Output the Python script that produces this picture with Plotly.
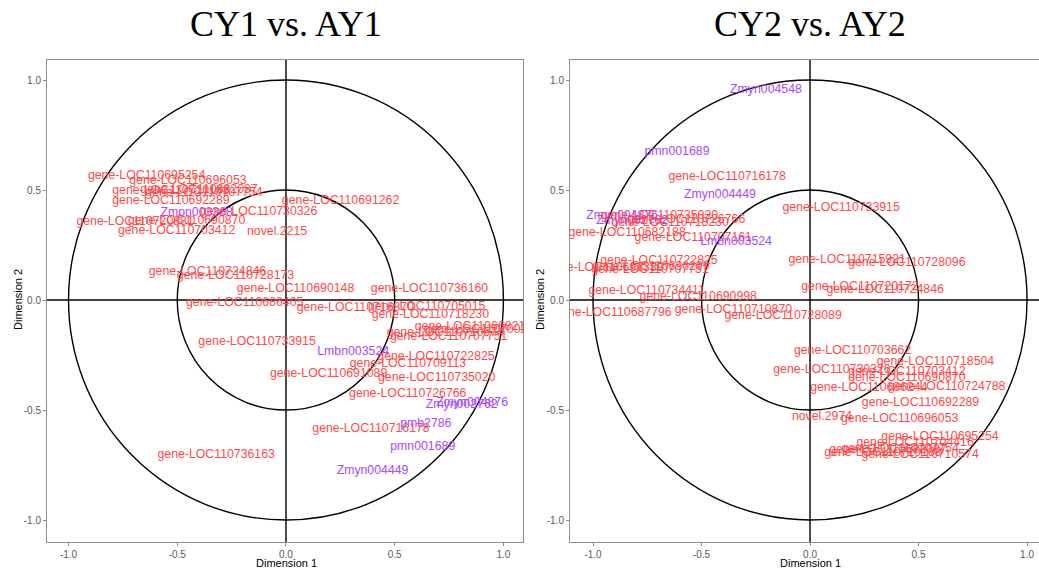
import plotly.graph_objects as go

# ---- CY1 vs. AY1 : variable coordinates on dimensions 1 and 2 ----
cy1_labels = [
    "gene-LOC110695254", "gene-LOC110696053", "gene-LOC110710188", "gene-LOC110682087",
    "gene-LOC110707754", "gene-LOC110692289", "Zmpn003368", "gene-LOC110730326",
    "gene-LOC110720881", "gene-LOC110690870", "gene-LOC110703412", "novel.2215",
    "gene-LOC110691262", "gene-LOC110724846", "gene-LOC110728173", "gene-LOC110690148",
    "gene-LOC110686405", "gene-LOC110736160", "gene-LOC110716870", "gene-LOC110705015",
    "gene-LOC110718230", "gene-LOC110668217", "gene-LOC110700211", "gene-LOC110710574",
    "gene-LOC110707751", "gene-LOC110733915", "Lmbn003524", "gene-LOC110722825",
    "gene-LOC110709113", "gene-LOC110691089", "gene-LOC110735020", "gene-LOC110726766",
    "Zmyn004876", "Zmyn002762", "pmb2786", "gene-LOC110716178",
    "pmn001689", "gene-LOC110736163", "Zmyn004449",
]
cy1_dim1 = [
    -0.641, -0.451, -0.529, -0.400, -0.377, -0.529, -0.411, -0.126,
    -0.694, -0.457, -0.503, -0.041, 0.251, -0.361, -0.232, 0.044,
    -0.190, 0.660, 0.319, 0.647, 0.664, 0.862, 0.901, 0.733,
    0.748, -0.133, 0.309, 0.690, 0.561, 0.196, 0.693, 0.560,
    0.856, 0.808, 0.643, 0.391, 0.629, -0.321, 0.398,
]
cy1_dim2 = [
    0.564, 0.541, 0.495, 0.500, 0.486, 0.450, 0.397, 0.400,
    0.356, 0.359, 0.315, 0.310, 0.451, 0.127, 0.111, 0.049,
    -0.012, 0.050, -0.038, -0.033, -0.068, -0.123, -0.136, -0.150,
    -0.170, -0.190, -0.238, -0.260, -0.291, -0.336, -0.356, -0.427,
    -0.470, -0.477, -0.564, -0.586, -0.667, -0.705, -0.777,
]

# ---- CY2 vs. AY2 ----
cy2_labels = [
    "Zmyn004548", "pmn001689", "gene-LOC110716178", "Zmyn004449",
    "gene-LOC110733915", "Zmyn004876", "Zmyn002762", "gene-LOC110735020",
    "gene-LOC110726766", "gene-LOC110718230", "gene-LOC110682188", "gene-LOC110707161",
    "Lmbn003524", "gene-LOC110722825", "gene-LOC110691339", "gene-LOC110690299",
    "gene-LOC110707751", "gene-LOC110734411", "gene-LOC110690998", "gene-LOC110687796",
    "gene-LOC110710870", "gene-LOC110728089", "gene-LOC110715921", "gene-LOC110728096",
    "gene-LOC110720172", "gene-LOC110724846", "gene-LOC110703662", "gene-LOC110718504",
    "gene-LOC110730326", "gene-LOC110703412", "gene-LOC110690870", "gene-LOC110686244",
    "gene-LOC110724788", "gene-LOC110692289", "novel.2974", "gene-LOC110696053",
    "gene-LOC110695254", "gene-LOC110704416", "gene-LOC110707754", "gene-LOC110682087",
    "gene-LOC110710188", "gene-LOC110710574",
]
cy2_dim1 = [
    -0.203, -0.613, -0.382, -0.415, 0.143, -0.866, -0.820, -0.694,
    -0.569, -0.645, -0.843, -0.538, -0.341, -0.696, -0.945, -0.733,
    -0.737, -0.753, -0.515, -0.908, -0.353, -0.124, 0.171, 0.446,
    0.230, 0.346, 0.196, 0.578, 0.101, 0.446, 0.446, 0.271,
    0.630, 0.509, 0.055, 0.413, 0.599, 0.484, 0.415, 0.359,
    0.336, 0.507,
]
cy2_dim2 = [
    0.955, 0.674, 0.560, 0.477, 0.418, 0.382, 0.360, 0.382,
    0.366, 0.350, 0.303, 0.280, 0.265, 0.179, 0.145, 0.150,
    0.136, 0.042, 0.015, -0.058, -0.045, -0.073, 0.182, 0.167,
    0.058, 0.045, -0.230, -0.280, -0.318, -0.329, -0.356, -0.401,
    -0.394, -0.470, -0.530, -0.542, -0.621, -0.649, -0.677, -0.682,
    -0.697, -0.705,
]

tick_vals = [-1.0, -0.5, 0.0, 0.5, 1.0]
tick_text = ["-1.0", "-0.5", "0.0", "0.5", "1.0"]

GENE_COLOR = "rgb(255,72,72)"
MIRNA_COLOR = "rgb(168,72,255)"
LABEL_FONT = "Liberation Sans, Arial, sans-serif"


def label_color(name):
    return GENE_COLOR if (name.startswith("gene") or name.startswith("novel")) else MIRNA_COLOR


fig = go.Figure()

for labels, d1, d2, xa, ya in [
    (cy1_labels, cy1_dim1, cy1_dim2, "x", "y"),
    (cy2_labels, cy2_dim1, cy2_dim2, "x2", "y2"),
]:
    fig.add_trace(go.Scatter(
        x=d1, y=d2, text=labels, mode="text",
        textposition="middle center",
        textfont=dict(family=LABEL_FONT, size=12.3, color=[label_color(n) for n in labels]),
        cliponaxis=True, showlegend=False, xaxis=xa, yaxis=ya,
        hoverinfo="text",
    ))

W, H = 1039, 571
axis_common = dict(
    tickvals=tick_vals, ticktext=tick_text, showgrid=False, zeroline=False,
    showline=True, mirror=True, linecolor="#8c8c8c", linewidth=1,
    ticks="outside", ticklen=3, tickcolor="#8c8c8c",
    tickfont=dict(family=LABEL_FONT, size=10, color="#5a5a5a"),
)
ydom = [1 - 542 / H, 1 - 60 / H]

fig.update_layout(
    width=W, height=H, margin=dict(l=0, r=0, t=0, b=0),
    paper_bgcolor="white", plot_bgcolor="white",
    xaxis=dict(domain=[47 / W, 523 / W], range=[-1.099, 1.090], anchor="y", **axis_common),
    yaxis=dict(domain=ydom, range=[-1.1, 1.091], anchor="x", **axis_common),
    xaxis2=dict(domain=[570 / W, 1.0], range=[-1.106, 1.055], anchor="y2", **axis_common),
    yaxis2=dict(domain=ydom, range=[-1.1, 1.091], anchor="x2", **axis_common),
)

# correlation circles (r = 1 and r = 0.5) and the axes through the origin
for xr, yr in [("x", "y"), ("x2", "y2")]:
    for r in (1.0, 0.5):
        fig.add_shape(type="circle", xref=xr, yref=yr, x0=-r, y0=-r, x1=r, y1=r,
                      line=dict(color="black", width=1.4), layer="below")
    fig.add_shape(type="line", xref=f"{xr} domain", yref=yr, x0=0, x1=1, y0=0, y1=0,
                  line=dict(color="black", width=1.4), layer="below")
    fig.add_shape(type="line", xref=xr, yref=f"{yr} domain", x0=0, x1=0, y0=0, y1=1,
                  line=dict(color="black", width=1.4), layer="below")

# panel titles and axis titles
annots = [
    dict(text="CY1 vs. AY1", x=286 / W, y=1 - 24 / H, size=36, family="Liberation Serif, serif", angle=0),
    dict(text="CY2 vs. AY2", x=810 / W, y=1 - 24 / H, size=36, family="Liberation Serif, serif", angle=0),
    dict(text="Dimension 1", x=286 / W, y=1 - 563 / H, size=11, family=LABEL_FONT, angle=0),
    dict(text="Dimension 1", x=810 / W, y=1 - 563 / H, size=11, family=LABEL_FONT, angle=0),
    dict(text="Dimension 2", x=18 / W, y=1 - 300 / H, size=11, family=LABEL_FONT, angle=-90),
    dict(text="Dimension 2", x=540 / W, y=1 - 300 / H, size=11, family=LABEL_FONT, angle=-90),
]
for a in annots:
    fig.add_annotation(text=a["text"], x=a["x"], y=a["y"], xref="paper", yref="paper",
                       xanchor="center", yanchor="middle", showarrow=False, textangle=a["angle"],
                       font=dict(family=a["family"], size=a["size"], color="black"))

fig.write_html("out.html")
